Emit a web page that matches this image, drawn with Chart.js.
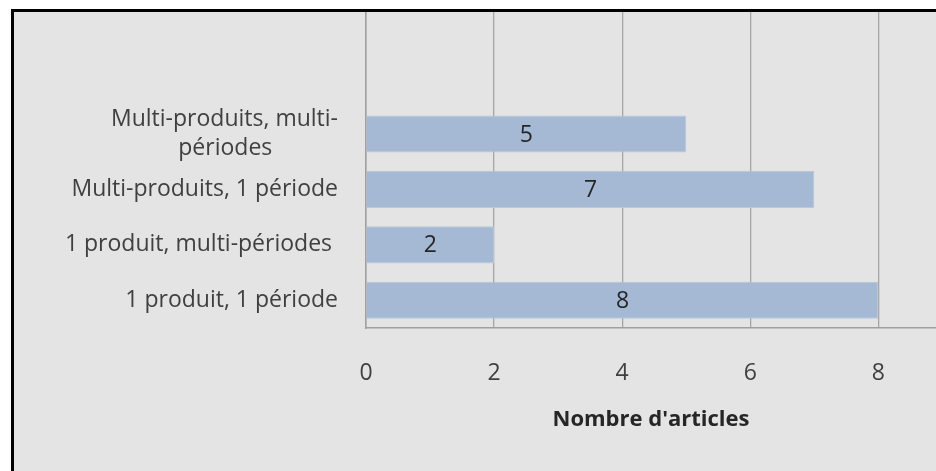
<!DOCTYPE html>
<html>
<head>
<meta charset="utf-8">
<script src="https://cdn.jsdelivr.net/npm/chart.js@4.4.1/dist/chart.umd.min.js"></script>
<style>
  html, body { margin: 0; padding: 0; background: #fff; overflow: hidden; width: 936px; height: 471px; }
  #frame { position: absolute; left: 11px; top: 9px; width: 1000px; height: 600px;
           border-left: 3px solid #000; border-top: 3px solid #000; background: #e4e4e4; }
  #wrap { position: absolute; left: 14px; top: 12px; width: 922px; height: 459px; }
</style>
</head>
<body>
<div id="frame"></div>
<div id="wrap"><canvas id="myChart"></canvas></div>
<script>
// categories from bottom to top
var categories = ['1 produit, 1 période', '1 produit, multi-périodes ', 'Multi-produits, 1 période', ['Multi-produits, multi-', 'périodes           ']];
var articles = [8, 2, 7, 5];
var xTicks = [0, 2, 4, 6, 8];

var points = articles.map(function (v, i) { return { x: v, y: i }; });

var fontName = 'Open Sans';

// draws the value in the middle of each bar
var valueLabels = {
  id: 'valueLabels',
  afterDatasetsDraw: function (chart) {
    var ctx = chart.ctx;
    var meta = chart.getDatasetMeta(0);
    ctx.save();
    ctx.font = '23px "' + fontName + '"';
    ctx.fillStyle = '#262626';
    ctx.textAlign = 'center';
    ctx.textBaseline = 'middle';
    meta.data.forEach(function (bar, i) {
      ctx.fillText(articles[i], (bar.x + bar.base) / 2, bar.y + 1);
    });
    ctx.restore();
  }
};

var ctx = document.getElementById('myChart');

var myChart = new Chart(ctx, {
  type: 'bar',
  data: {
    datasets: [{
      data: points,
      backgroundColor: '#a5b8d4',
      borderColor: '#b9c8dc',
      borderWidth: 1,
      barPercentage: 0.67,
      categoryPercentage: 1
    }]
  },
  plugins: [valueLabels],
  options: {
    indexAxis: 'y',
    responsive: true,
    maintainAspectRatio: false,
    animation: false,
    layout: { padding: 0 },
    plugins: {
      legend: { display: false },
      tooltip: { enabled: false }
    },
    scales: {
      x: {
        type: 'linear',
        min: 0,
        max: 8.9,
        afterBuildTicks: function (s) { s.ticks = xTicks.map(function (v) { return { value: v }; }); },
        afterFit: function (s) { s.height = 143; s.paddingLeft = 0; s.paddingRight = 0; },
        grid: { color: '#a6a6a6', lineWidth: 1.3, drawTicks: false },
        border: { color: '#a0a0a0', width: 1.5 },
        ticks: { color: '#404040', padding: 32, font: { family: fontName, size: 23 } },
        title: {
          display: true,
          text: "Nombre d'articles",
          color: '#262626',
          font: { family: fontName, size: 22, weight: 'bold' },
          padding: { top: 0, bottom: 38 }
        }
      },
      y: {
        type: 'linear',
        offset: false,
        min: -0.5,
        max: 5.2,
        afterBuildTicks: function (s) { s.ticks = categories.map(function (c, i) { return { value: i }; }); },
        afterFit: function (s) { s.width = 352; s.paddingTop = 0; s.paddingBottom = 0; },
        grid: { display: false, drawTicks: false, offset: false },
        border: { color: '#a0a0a0', width: 1.5 },
        ticks: {
          color: '#404040',
          padding: 28,
          font: { family: fontName, size: 23, lineHeight: 1.3 },
          callback: function (v) { return categories[v]; }
        }
      }
    }
  }
});
</script>
</body>
</html>
